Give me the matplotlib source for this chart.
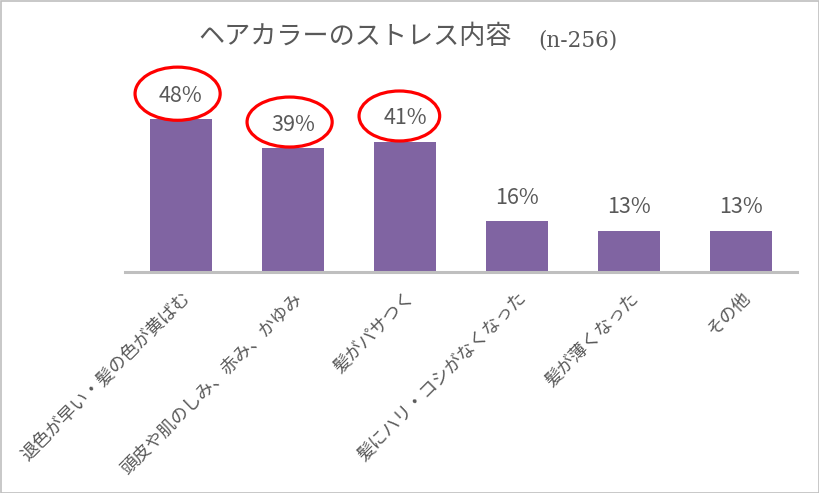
import matplotlib.pyplot as plt
from matplotlib.patches import Ellipse, Rectangle

plt.rcParams['font.family'] = ['Noto Sans CJK JP', 'DejaVu Sans']

categories = ['退色が早い・髪の色が黄ばむ', '頭皮や肌のしみ、赤み、かゆみ', '髪がパサつく',
              '髪にハリ・コシがなくなった', '髪が薄くなった', 'その他']
values = [48, 39, 41, 16, 13, 13]
labels = ['48%', '39%', '41%', '16%', '13%', '13%']
circled = [0, 1, 2]

text_color = '#595959'
bar_color = '#8064A2'

fig = plt.figure(figsize=(8.2, 4.93), dpi=100)
ax = fig.add_axes([0.1524, 0.4477, 0.8195, 0.3874])

x = list(range(len(values)))
ax.bar(x, values, width=0.55, color=bar_color)
ax.set_xlim(-0.5, len(values) - 0.5)
ax.set_ylim(0, 60)

for sp in ['top', 'right', 'left']:
    ax.spines[sp].set_visible(False)
ax.spines['bottom'].set_color('#BFBFBF')
ax.spines['bottom'].set_linewidth(2.2)
ax.set_yticks([])
ax.set_xticks(x)
ax.set_xticklabels(categories, rotation=45, ha='right', va='top', rotation_mode='anchor',
                   fontsize=12.8, color=text_color)
ax.tick_params(axis='x', length=0, pad=12)

for i, v in enumerate(values):
    ax.annotate(labels[i], (i, v), xytext=(0, 9), textcoords='offset points',
                ha='center', va='bottom', fontsize=15.5, color=text_color)

# red circles drawn around the top three labels
ell = [(-0.03, 8.1, 0.76, 16.7), (-0.03, 8.2, 0.76, 15.7), (-0.05, 8.1, 0.72, 15.7)]
for i, (dx, dy, w, h) in zip(circled, ell):
    ax.add_patch(Ellipse((i + dx, values[i] + dy), w, h, fill=False,
                         edgecolor='#FF0000', lw=2.3, clip_on=False))

fig.text(198 / 820, 1 - 37 / 493, 'ヘアカラーのストレス内容', fontsize=18.8,
         color=text_color, ha='left', va='center')
fig.text(538 / 820, 1 - 41 / 493, '(n-256)', fontsize=15.5, family='DejaVu Serif',
         color=text_color, ha='left', va='center')

fig.patches.append(Rectangle((0.001, 0.001), 0.998, 0.997, transform=fig.transFigure,
                             fill=False, edgecolor='#BFBFBF', lw=1.2))

fig.savefig('out.png', dpi=100)
